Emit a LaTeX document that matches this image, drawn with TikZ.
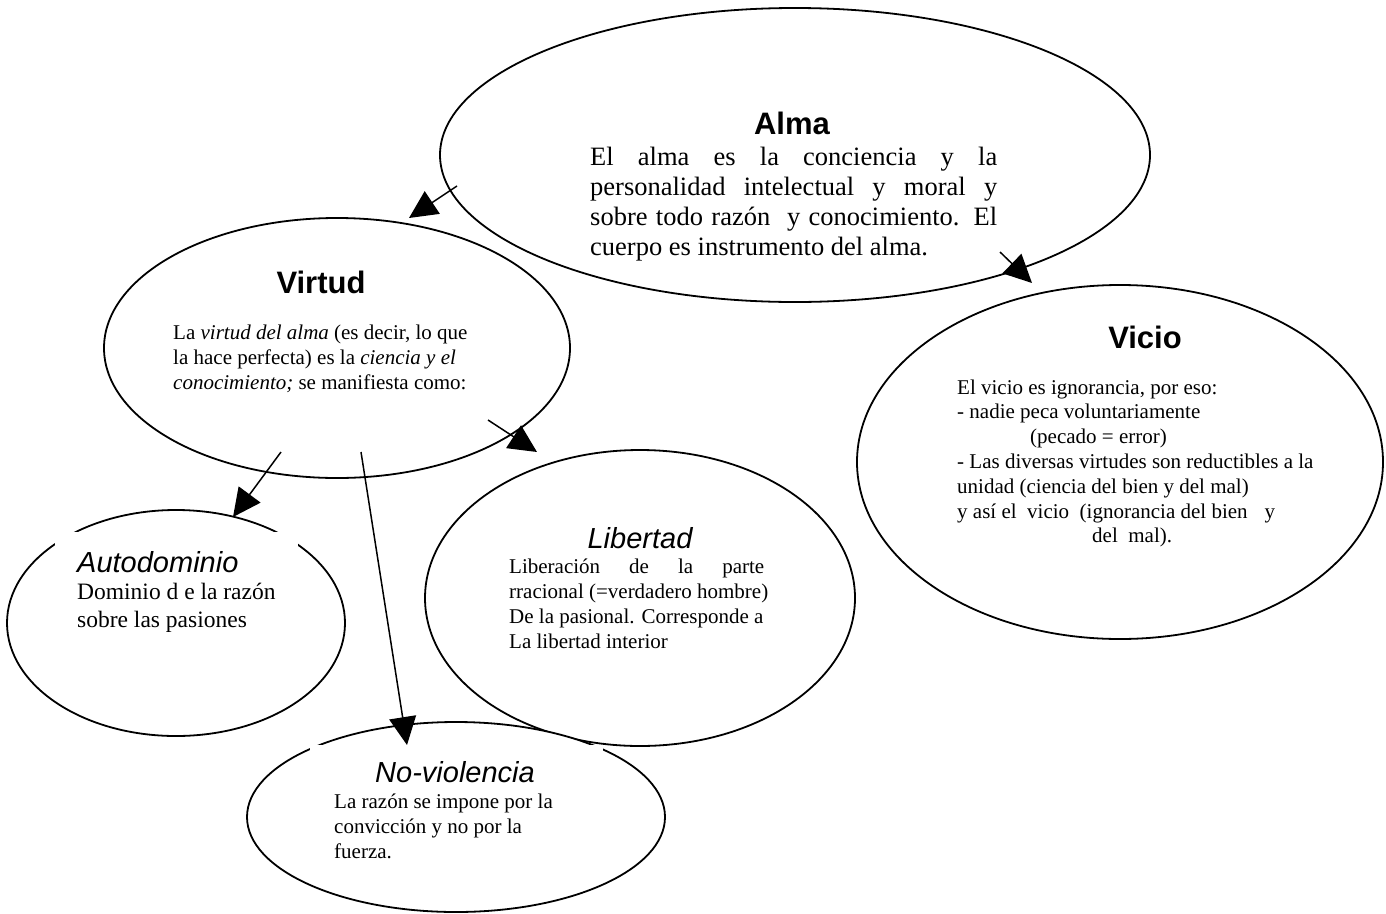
\documentclass[tikz,border=0pt]{standalone}
\usepackage{fontspec}
\setmainfont{Liberation Serif}
\newfontfamily\arialfont{Liberation Sans}
\usetikzlibrary{shapes.geometric,arrows.meta}

\begin{document}
\begin{tikzpicture}[x=1pt,y=-1pt,
  bubble/.style={ellipse,draw,fill=white,line width=1.8pt,inner sep=0pt},
  cover/.style={rectangle,fill=white,draw=none,inner sep=0pt},
  headbf/.style={font=\arialfont\bfseries\fontsize{31}{37}\selectfont,inner sep=0pt,anchor=base},
  headit/.style={font=\arialfont\itshape\fontsize{29}{35}\selectfont,inner sep=0pt,anchor=base},
  body/.style={align=left,inner sep=0pt,anchor=north west},
  link/.style={line width=1.5pt,-{Triangle[length=28pt,width=27pt]}}]

\useasboundingbox (0,0) rectangle (1386,913);

% the six concept bubbles
\node[bubble,minimum width=710pt,minimum height=294pt] (alma) at (795,155) {};
\node[bubble,minimum width=466pt,minimum height=260pt] (virtud) at (337,348) {};
\node[bubble,minimum width=526pt,minimum height=354pt] (vicio) at (1120,462) {};
\node[bubble,minimum width=430pt,minimum height=296pt] (libertad) at (640,598) {};
\node[bubble,minimum width=338pt,minimum height=226pt] (autodominio) at (176,623) {};
\node[bubble,minimum width=418pt,minimum height=190pt] (noviolencia) at (456,817) {};

% white text frames that cut into the outlines
\node[cover,minimum width=243pt,minimum height=158pt] (autoframe) at (176.5,611) {};
\node[cover,minimum width=293pt,minimum height=125pt] (novframe) at (456.5,807.5) {};

% Alma
\node[headbf] (almatitle) at (792,134) {Alma};
\node[body,font=\fontsize{26.5}{30}\selectfont] (almatext) at (590,144) {%
\strut\makebox[407pt][s]{El alma es la conciencia y la}\\
\makebox[407pt][s]{personalidad intelectual y moral y}\\
\makebox[407pt][s]{sobre todo razón\ \ y conocimiento. El}\\
cuerpo es instrumento del alma.};

% Virtud
\node[headbf] (virtudtitle) at (321,293) {Virtud};
\node[body,font=\fontsize{21}{25}\selectfont] (virtudtext) at (173,321.5) {%
\strut La \textit{virtud del alma} (es decir, lo que\\
la hace perfecta) es la \textit{ciencia y el}\\
\textit{conocimiento;} se manifiesta como:};

% Vicio
\node[headbf] (viciotitle) at (1145,348) {Vicio};
\node[body,font=\fontsize{21}{24.8}\selectfont] (viciotext) at (957,376.6) {%
\strut El vicio es ignorancia, por eso:\\
- nadie peca voluntariamente\\
\hspace*{73pt}(pecado = error)\\
- Las diversas virtudes son reductibles a la\\
unidad (ciencia del bien y del mal)\\
y así el\ \ vicio\ \ (ignorancia del bien\hspace*{17pt}y\\
\hspace*{135pt}del\ \ mal).};

% Autodominio
\node[headit,anchor=base west] (autotitle) at (77,572) {Autodominio};
\node[body,font=\fontsize{23.5}{28}\selectfont] (autotext) at (77,579.4) {%
\strut Dominio d e la razón\\
sobre las pasiones};

% Libertad
\node[headit] (libtitle) at (640,548) {Libertad};
\node[body,font=\fontsize{21}{25}\selectfont] (libtext) at (509,555.5) {%
\strut\makebox[255pt][s]{Liberación de la parte}\\
rracional (=verdadero hombre)\\
De la pasional. Corresponde a\\
La libertad interior};

% No-violencia
\node[headit] (novtitle) at (455,782) {No-violencia};
\node[body,font=\fontsize{21}{25}\selectfont] (novtext) at (334,790.5) {%
\strut La razón se impone por la\\
convicción y no por la\\
fuerza.};

% connector ends
\coordinate (almaL) at (457,186);
\coordinate (virtudIn) at (409,218);
\coordinate (almaR) at (1000,252);
\coordinate (vicioIn) at (1032,283);
\coordinate (virtudR) at (488,420);
\coordinate (libIn) at (537,452);
\coordinate (virtudL) at (281,452);
\coordinate (autoIn) at (233,517);
\coordinate (virtudB) at (361,452);
\coordinate (novIn) at (407,745);

\draw[link] (almaL) -- (virtudIn);
\draw[link] (almaR) -- (vicioIn);
\draw[link] (virtudR) -- (libIn);
\draw[link] (virtudL) -- (autoIn);
\draw[link] (virtudB) -- (novIn);
\end{tikzpicture}
\end{document}
